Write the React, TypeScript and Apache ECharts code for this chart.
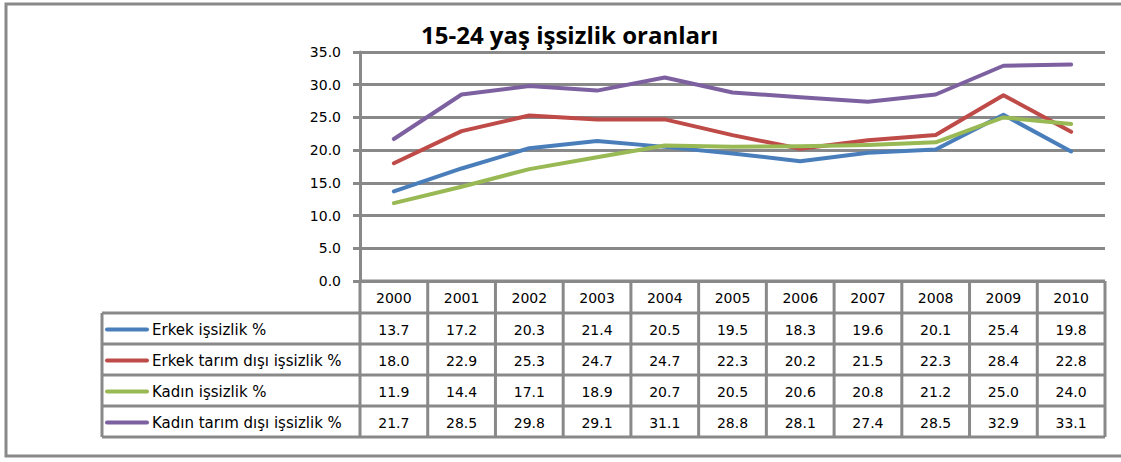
import React, { useEffect, useRef } from "react";
import * as echarts from "echarts";

const title = "15-24 yaş işsizlik oranları";
const years = ["2000", "2001", "2002", "2003", "2004", "2005", "2006", "2007", "2008", "2009", "2010"];
const seriesNames = [
  "Erkek işsizlik %",
  "Erkek tarım dışı işsizlik %",
  "Kadın işsizlik %",
  "Kadın tarım dışı işsizlik %",
];
const erkek = [13.7, 17.2, 20.3, 21.4, 20.5, 19.5, 18.3, 19.6, 20.1, 25.4, 19.8];
const erkekTarimDisi = [18.0, 22.9, 25.3, 24.7, 24.7, 22.3, 20.2, 21.5, 22.3, 28.4, 22.8];
const kadin = [11.9, 14.4, 17.1, 18.9, 20.7, 20.5, 20.6, 20.8, 21.2, 25.0, 24.0];
const kadinTarimDisi = [21.7, 28.5, 29.8, 29.1, 31.1, 28.8, 28.1, 27.4, 28.5, 32.9, 33.1];
const seriesData = [erkek, erkekTarimDisi, kadin, kadinTarimDisi];
const colors = ["#4A7EBB", "#BE4B48", "#98B954", "#7D60A0"];
const yMin = 0;
const yMax = 35;
const yInterval = 5;

const GRAY = "#898989";
const FONT = "DejaVu Sans";

export default function App() {
  const ref = useRef<HTMLDivElement>(null);

  useEffect(() => {
    if (!ref.current) return;
    const chart = echarts.init(ref.current, null, { renderer: "svg" });
    const gridLeft = 360;
    const gridRight = 16;
    const gridTop = 52;
    const gridBottom = 181;

    chart.setOption({
      animation: false,
      title: {
        text: title,
        left: 416,
        top: 17,
        textStyle: { fontFamily: "Open Sans", fontWeight: "bold", fontSize: 24, color: "#000" },
      },
      grid: { left: gridLeft, right: gridRight, top: gridTop, bottom: gridBottom },
      xAxis: {
        type: "category",
        data: years,
        boundaryGap: true,
        axisLine: { show: false },
        axisTick: { show: false },
        axisLabel: { show: false },
      },
      yAxis: {
        type: "value",
        min: yMin,
        max: yMax,
        interval: yInterval,
        axisLine: { show: true, lineStyle: { color: GRAY, width: 3 } },
        axisTick: { show: true, length: 7, lineStyle: { color: GRAY, width: 3 } },
        axisLabel: {
          formatter: (v: number) => v.toFixed(1),
          fontFamily: FONT,
          fontSize: 14,
          color: "#000",
          margin: 19,
        },
        splitLine: { show: true, lineStyle: { color: GRAY, width: 3 } },
      },
      series: seriesData.map((d, i) => ({
        type: "line",
        name: seriesNames[i],
        data: d,
        showSymbol: false,
        symbol: "none",
        lineStyle: { color: colors[i], width: 4, cap: "round", join: "round" },
        itemStyle: { color: colors[i] },
        z: 3 + i,
      })),
    });

    // Build data table under the plot, aligned with the category axis
    const c0 = chart.convertToPixel({ xAxisIndex: 0 }, 0) as number;
    const c1 = chart.convertToPixel({ xAxisIndex: 0 }, 1) as number;
    const bw = c1 - c0;
    const left = c0 - bw / 2;
    const right = left + bw * years.length;
    const y0 = chart.convertToPixel({ yAxisIndex: 0 }, 0) as number;
    const headerH = 32;
    const rowH = 31;
    const legendLeft = 102;
    const rowTops = [y0 + headerH];
    for (let i = 1; i <= seriesNames.length; i++) rowTops.push(y0 + headerH + rowH * i);
    const bottom = rowTops[rowTops.length - 1];

    const els: any[] = [];
    const line = (x1: number, y1: number, x2: number, y2: number) =>
      els.push({
        type: "line",
        shape: { x1, y1, x2, y2 },
        style: { stroke: GRAY, lineWidth: 3 },
        z: 10,
      });

    // outer frame
    els.push({
      type: "rect",
      shape: { x: 6, y: 4, width: 1140, height: 452 },
      style: { fill: "none", stroke: GRAY, lineWidth: 3 },
      z: 1,
    });

    // horizontal lines
    line(left, y0, right, y0);
    rowTops.forEach((y) => line(legendLeft, y, right, y));
    // vertical lines
    line(legendLeft, rowTops[0], legendLeft, bottom);
    for (let k = 0; k <= years.length; k++) {
      const x = left + bw * k;
      line(x, y0, x, bottom);
    }
    // header texts
    years.forEach((yr, k) => {
      els.push({
        type: "text",
        style: {
          text: yr,
          x: left + bw * (k + 0.5),
          y: y0 + headerH / 2 + 1,
          textAlign: "center",
          textVerticalAlign: "middle",
          fontFamily: FONT,
          fontSize: 14,
          fill: "#000",
        },
        z: 11,
      });
    });
    // rows
    seriesNames.forEach((name, r) => {
      const cy = rowTops[r] + rowH / 2 + 1;
      els.push({
        type: "line",
        shape: { x1: 107, y1: cy, x2: 147, y2: cy },
        style: { stroke: colors[r], lineWidth: 4, lineCap: "round" },
        z: 11,
      });
      els.push({
        type: "text",
        style: {
          text: name,
          x: 152,
          y: cy,
          textAlign: "left",
          textVerticalAlign: "middle",
          fontFamily: FONT,
          fontSize: 15,
          fill: "#000",
        },
        z: 11,
      });
      seriesData[r].forEach((v, k) => {
        els.push({
          type: "text",
          style: {
            text: v.toFixed(1),
            x: left + bw * (k + 0.5),
            y: cy,
            textAlign: "center",
            textVerticalAlign: "middle",
            fontFamily: FONT,
            fontSize: 14,
            fill: "#000",
          },
          z: 11,
        });
      });
    });

    chart.setOption({ graphic: { elements: els } });

    return () => chart.dispose();
  }, []);

  return (
    <div
      ref={ref}
      style={{ position: "absolute", left: 0, top: 0, width: 1121, height: 462, background: "#fff" }}
    />
  );
}
